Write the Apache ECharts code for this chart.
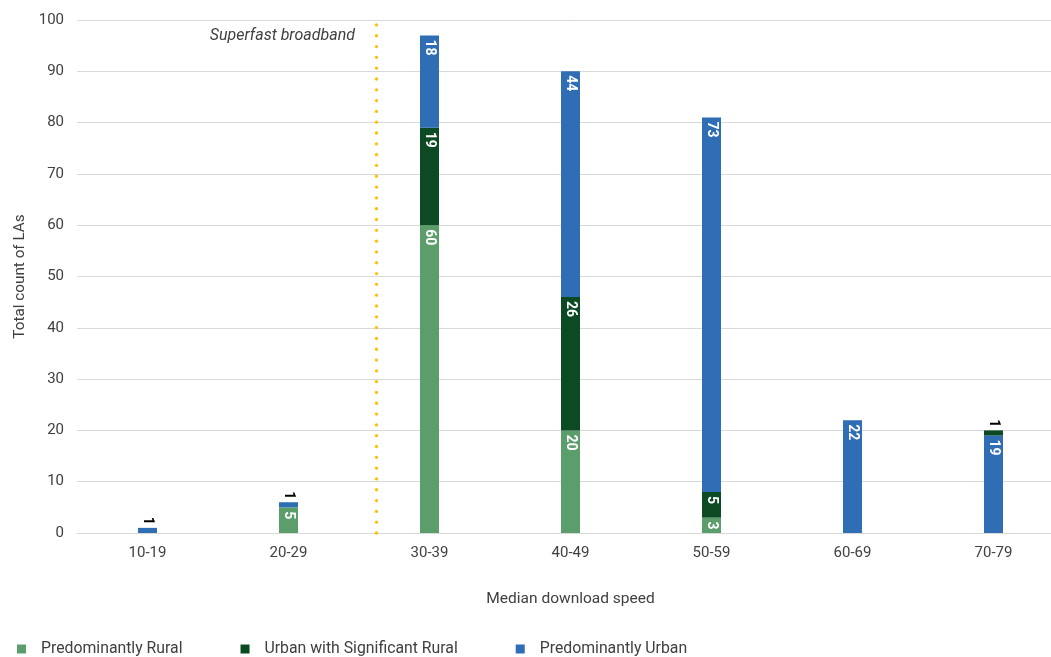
<!DOCTYPE html>
<html>
<head>
<meta charset="utf-8">
<script src="https://cdn.jsdelivr.net/npm/echarts@6/dist/echarts.min.js"></script>
<style>html,body{margin:0;padding:0;background:#fff;overflow:hidden}#c{width:1064px;height:657px}</style>
</head>
<body>
<div id="c"></div>
<script>
var categories = ['10-19','20-29','30-39','40-49','50-59','60-69','70-79'];
var predominantlyRural = [0, 5, 60, 20, 3, 0, 0];
var urbanWithSignificantRural = [0, 0, 19, 26, 5, 0, 1];
var predominantlyUrban = [1, 1, 18, 44, 73, 22, 19];
// categories where the reference draws the urban segment below the "significant rural" one
var urbanDrawnBelow = ['70-79'];
var seriesNames = ['Predominantly Rural', 'Urban with Significant Rural', 'Predominantly Urban'];
var superfastPosition = 2.12; // in category units along the axis
var yTicks = {min: 0, max: 100, interval: 10};

var colors = ['#5C9E6B', '#0B4A23', '#2F6DB5'];
var fontFamily = 'Roboto, "Liberation Sans", sans-serif';

function toItems(arr) {
  return arr.map(function (v) {
    if (!v) return {value: v, label: {show: false}};
    if (v <= 1) {
      return {value: v, label: {show: true, position: 'top', rotate: -90, align: 'right',
        verticalAlign: 'middle', distance: 3, color: '#000', fontWeight: 'bold', fontSize: 14}};
    }
    return {value: v};
  });
}

function barSeries(name, arr, color) {
  return {
    name: name, type: 'bar', stack: 'total', barWidth: 19,
    itemStyle: {color: color},
    label: {show: true, position: 'insideTop', rotate: -90, align: 'left', verticalAlign: 'middle',
      distance: 4, color: '#fff', fontWeight: 'bold', fontSize: 14, fontFamily: fontFamily},
    data: toItems(arr)
  };
}

var urbanLower = predominantlyUrban.map(function (v, i) {
  return urbanDrawnBelow.indexOf(categories[i]) >= 0 ? v : 0;
});
var urbanUpper = predominantlyUrban.map(function (v, i) {
  return urbanDrawnBelow.indexOf(categories[i]) >= 0 ? 0 : v;
});

var chart = echarts.init(document.getElementById('c'));
chart.setOption({
  animation: false,
  color: colors,
  grid: {left: 77, right: 0, top: 20, bottom: 124},
  xAxis: [{
    type: 'category', data: categories,
    name: 'Median download speed', nameLocation: 'middle', nameGap: 58,
    nameTextStyle: {fontSize: 15.5, color: '#404040', fontFamily: fontFamily},
    axisLine: {lineStyle: {color: '#d9d9d9'}},
    axisTick: {show: false},
    axisLabel: {fontSize: 15, color: '#404040', margin: 13, fontFamily: fontFamily}
  }, {
    type: 'value', min: 0, max: categories.length, show: false
  }],
  yAxis: {
    type: 'value', min: yTicks.min, max: yTicks.max, interval: yTicks.interval,
    name: 'Total count of LAs', nameLocation: 'middle', nameGap: 42,
    nameTextStyle: {fontSize: 15.3, color: '#404040', fontFamily: fontFamily},
    axisLine: {show: false}, axisTick: {show: false},
    splitLine: {lineStyle: {color: '#d9d9d9'}},
    axisLabel: {fontSize: 15, color: '#404040', margin: 13, fontFamily: fontFamily}
  },
  legend: {
    data: seriesNames, left: 12, bottom: -5, itemWidth: 9, itemHeight: 9, itemGap: 58,
    icon: 'rect',
    textStyle: {fontSize: 15.8, color: '#404040', fontFamily: fontFamily, padding: [0, 0, 0, 10]}
  },
  graphic: [{
    type: 'text', x: 355, y: 36,
    style: {text: 'Superfast broadband', align: 'right', verticalAlign: 'middle',
      font: 'italic 16px ' + fontFamily, fill: '#404040'}
  }],
  series: [
    barSeries(seriesNames[0], predominantlyRural, colors[0]),
    barSeries(seriesNames[2], urbanLower, colors[2]),
    barSeries(seriesNames[1], urbanWithSignificantRural, colors[1]),
    barSeries(seriesNames[2], urbanUpper, colors[2]),
    {
      name: 'superfast', type: 'line', xAxisIndex: 1, data: [], silent: true,
      markLine: {
        silent: true, symbol: 'none', label: {show: false},
        lineStyle: {color: '#FFC000', width: 3.3, type: [0.01, 10.8], cap: 'round', opacity: 1},
        data: [[{coord: [superfastPosition, yTicks.min]}, {coord: [superfastPosition, yTicks.max]}]]
      }
    }
  ]
});
</script>
</body>
</html>
